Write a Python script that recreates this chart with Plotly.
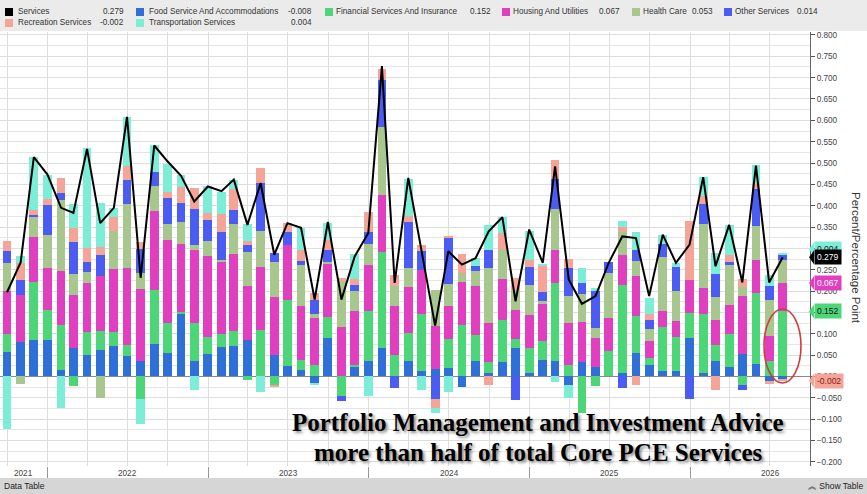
import plotly.graph_objects as go
import pandas as pd

# ---------------- data ----------------
months = pd.date_range("2021-09-30", periods=59, freq="ME").strftime("%Y-%m-%d").tolist()

services = [0.197, 0.267, 0.514, 0.473, 0.395, 0.383, 0.533, 0.359, 0.395, 0.608,
            0.231, 0.541, 0.504, 0.470, 0.410, 0.445, 0.434, 0.461, 0.355, 0.453,
            0.285, 0.359, 0.348, 0.180, 0.362, 0.180, 0.281, 0.336, 0.727, 0.219,
            0.465, 0.290, 0.119, 0.293, 0.262, 0.277, 0.340, 0.373, 0.176, 0.344,
            0.266, 0.492, 0.227, 0.170, 0.188, 0.266, 0.328, 0.324, 0.188, 0.332,
            0.266, 0.309, 0.467, 0.258, 0.355, 0.220, 0.494, 0.220, 0.279]

food = [0.056, 0.080, 0.086, 0.086, 0.016, 0.066, 0.051, 0.062, 0.070, 0.048,
        0.037, 0.076, 0.055, 0.146, 0.037, 0.053, 0.069, 0.072, 0.086, 0.000,
        0.051, 0.025, 0.014, -0.016, 0.091, 0.000, 0.023, 0.037, 0.066, 0.002,
        0.035, 0.012, 0.017, 0.020, -0.025, 0.037, 0.008, 0.034, 0.066, 0.009,
        0.039, 0.037, -0.020, 0.034, 0.023, 0.000, 0.009, 0.055, 0.027, 0.012,
        0.012, 0.091, 0.008, 0.035, 0.023, 0.053, 0.029, -0.010, -0.008]

financial = [0.044, 0.000, 0.135, 0.070, 0.105, -0.022, 0.053, 0.045, 0.035, 0.026,
             -0.052, 0.127, 0.070, 0.005, 0.087, 0.039, 0.031, 0.034, -0.009, 0.109,
             -0.020, 0.155, 0.025, 0.026, 0.047, -0.045, 0.004, 0.116, 0.225, 0.049,
             0.066, 0.133, 0.000, 0.068, 0.120, 0.059, 0.026, 0.097, 0.021, 0.057,
             0.045, 0.182, 0.026, -0.086, -0.022, 0.059, 0.205, 0.087, 0.016, 0.103,
             0.081, 0.057, 0.137, 0.039, 0.076, -0.020, 0.166, 0.037, 0.152]

housing = [0.101, 0.111, 0.105, 0.098, 0.125, 0.125, 0.115, 0.129, 0.147, 0.181,
           0.168, 0.185, 0.194, 0.159, 0.172, 0.189, 0.168, 0.180, 0.125, 0.148,
           0.134, 0.127, 0.125, 0.111, 0.126, 0.115, 0.127, 0.107, 0.134, 0.115,
           0.109, 0.105, 0.102, 0.077, 0.100, 0.115, 0.090, 0.098, 0.069, 0.078,
           0.086, 0.078, 0.098, 0.093, 0.068, 0.078, 0.070, 0.094, 0.039, 0.037,
           0.036, 0.077, 0.061, 0.059, 0.069, 0.136, 0.077, 0.057, 0.067]

health = [0.065, -0.018, 0.048, 0.078, 0.168, 0.048, 0.025, -0.051, 0.089, 0.148,
          0.037, 0.059, 0.037, 0.052, 0.012, 0.037, 0.005, 0.072, 0.080, 0.084,
          0.084, 0.000, 0.098, 0.010, 0.005, 0.108, 0.045, 0.051, 0.160, 0.045,
          0.043, 0.000, 0.084, 0.051, 0.022, 0.037, 0.130, 0.066, 0.045, 0.070,
          0.007, 0.095, 0.064, 0.067, 0.022, 0.105, 0.054, 0.035, 0.030, 0.127,
          0.070, 0.000, 0.152, 0.053, 0.092, 0.020, 0.080, 0.086, 0.053]

other = [0.027, 0.035, 0.003, 0.070, 0.016, 0.077, 0.024, 0.048, 0.000, 0.057,
         0.057, 0.033, 0.062, 0.045, 0.084, 0.048, 0.065, 0.032, 0.017, 0.112,
         0.020, 0.032, 0.008, 0.033, 0.027, -0.013, 0.016, 0.027, 0.109, -0.027,
         0.109, 0.043, -0.052, 0.108, 0.000, 0.011, 0.041, 0.000, -0.055, 0.043,
         0.020, 0.070, 0.065, 0.025, 0.086, 0.025, -0.027, 0.026, 0.021, 0.031,
         0.057, -0.053, 0.045, 0.055, 0.009, -0.012, 0.086, 0.031, 0.014]

recreation = [0.025, 0.039, 0.014, 0.014, 0.035, 0.031, 0.033, 0.019, 0.032, 0.034,
              0.017, 0.000, 0.015, 0.037, 0.049, 0.018, 0.042, 0.048, 0.009, 0.035,
              -0.006, 0.021, 0.026, 0.016, 0.023, 0.008, 0.012, 0.047, 0.027, 0.027,
              0.013, 0.014, -0.023, 0.005, 0.045, 0.000, -0.020, 0.042, 0.030, 0.016,
              0.062, 0.045, 0.023, 0.000, 0.000, 0.000, 0.012, -0.020, 0.014, 0.000,
              0.000, 0.138, 0.020, -0.033, 0.016, 0.018, 0.012, -0.007, -0.002]

transport = [-0.123, 0.016, 0.123, 0.056, -0.074, 0.056, 0.234, 0.104, 0.021, 0.113,
             -0.059, 0.062, 0.064, 0.027, -0.031, 0.062, 0.052, 0.023, 0.041, -0.037,
             0.000, 0.000, 0.052, -0.004, 0.041, 0.000, 0.059, -0.047, 0.000, 0.000,
             0.088, -0.031, -0.012, -0.037, 0.000, 0.018, 0.059, 0.036, 0.000, 0.068,
             0.005, -0.014, -0.030, 0.035, 0.008, 0.000, 0.014, 0.041, 0.037, 0.021,
             0.009, 0.000, 0.045, 0.047, 0.070, 0.000, 0.045, 0.027, 0.004]

year_labels = ["2021", "2022", "2023", "2024", "2025", "2026"]
year_label_pos = ["2021-11-07", "2022-07-02", "2023-07-02", "2024-07-02", "2025-07-02", "2026-07-02"]
year_starts = ["2022-01-01", "2023-01-01", "2024-01-01", "2025-01-01", "2026-01-01"]

series = [
    ("Food Service And Accommodations", food, "#2e6fd8"),
    ("Financial Services And Insurance", financial, "#4cd677"),
    ("Housing And Utilities", housing, "#e03fc0"),
    ("Health Care", health, "#a7c78f"),
    ("Other Services", other, "#4a5cf2"),
    ("Recreation Services", recreation, "#f5a597"),
    ("Transportation Services", transport, "#7ceed8"),
]

# ---------------- geometry helpers ----------------
W, H = 867, 494
L, R, T, B = 0, 57, 32, 28
PW, PH = W - L - R, H - T - B


def px(x):
    return (x - L) / PW


def py(y):
    return (H - B - y) / PH


FONT = "Liberation Sans"
BAR_W = 20 * 86400000

fig = go.Figure()
for name, vals, col in series:
    fig.add_trace(go.Bar(x=months, y=vals, name=name, marker=dict(color=col, line=dict(width=0)),
                         width=BAR_W))
fig.add_trace(go.Scatter(x=months, y=services, name="Services", mode="lines",
                         line=dict(color="black", width=2)))

shapes = []
annotations = []

# top legend band & bottom data table band
shapes.append(dict(type="rect", xref="paper", yref="paper", x0=px(0), x1=px(W), y0=py(31), y1=py(0),
                   fillcolor="#ebebeb", line=dict(width=0), layer="below"))
shapes.append(dict(type="rect", xref="paper", yref="paper", x0=px(0), x1=px(W), y0=py(H), y1=py(478),
                   fillcolor="#d6d6d6", line=dict(width=0), layer="below"))

# legend entries: (label, value, color, square_x, name_x, value_right_x, row_y)
legend_items = [
    ("Services", "0.279", "#000000", 5, 16, 126, 12),
    ("Food Service And Accommodations", "-0.008", "#2e6fd8", 136, 147, 314, 12),
    ("Financial Services And Insurance", "0.152", "#4cd677", 325, 334, 493, 12),
    ("Housing And Utilities", "0.067", "#e03fc0", 502, 511, 622, 12),
    ("Health Care", "0.053", "#a7c78f", 632, 641, 715, 12),
    ("Other Services", "0.014", "#4a5cf2", 724, 733, 820, 12),
    ("Recreation Services", "-0.002", "#f5a597", 5, 16, 126, 23),
    ("Transportation Services", "0.004", "#7ceed8", 136, 147, 314, 23),
]
for lab, val, col, sx, nx, vx, ry in legend_items:
    shapes.append(dict(type="rect", xref="paper", yref="paper", x0=px(sx), x1=px(sx + 8),
                       y0=py(ry + 4), y1=py(ry - 4), fillcolor=col, line=dict(width=0)))
    annotations.append(dict(xref="paper", yref="paper", x=px(nx), y=py(ry), text=lab, showarrow=False,
                            xanchor="left", yanchor="middle", font=dict(family=FONT, size=8.2, color="#333")))
    annotations.append(dict(xref="paper", yref="paper", x=px(vx), y=py(ry), text=val, showarrow=False,
                            xanchor="right", yanchor="middle", font=dict(family=FONT, size=8.2, color="#333")))

# year labels
for lab, pos in zip(year_labels, year_label_pos):
    annotations.append(dict(xref="x", yref="paper", x=pos, y=py(473), text=lab, showarrow=False,
                            xanchor="center", yanchor="middle", font=dict(family=FONT, size=8.2, color="#444")))

# bottom band texts
annotations.append(dict(xref="paper", yref="paper", x=px(2), y=py(486), text="Data Table", showarrow=False,
                        xanchor="left", yanchor="middle", font=dict(family=FONT, size=8.5, color="#222")))
annotations.append(dict(xref="paper", yref="paper", x=px(865), y=py(486), text="︽ Show Table", showarrow=False,
                        xanchor="right", yanchor="middle", font=dict(family=FONT, size=8.5, color="#222")))

# axis title
annotations.append(dict(xref="paper", yref="paper", x=px(856), y=py(258), text="Percent/Percentage Point",
                        showarrow=False, textangle=90, xanchor="center", yanchor="middle",
                        font=dict(family=FONT, size=11.5, color="#333")))

# value tags on right axis: (text, y value, bg, fg)
tags = [
    ("0.004", 0.298, "#7ceed8", "#222"),
    ("0.279", 0.279, "#000000", "#ffffff"),
    ("0.067", 0.219, "#e03fc0", "#ffffff"),
    ("0.152", 0.152, "#4cd677", "#111"),
    ("-0.002", -0.010, "#f5a597", "#8b1a1a"),
]
for txt, yv, bg, fg in tags:
    shapes.append(dict(type="path", xref="paper", yref="y",
                       path=f"M {px(809)},{yv} L {px(814)},{yv + 0.016} L {px(814)},{yv - 0.016} Z",
                       fillcolor=bg, line=dict(width=0)))
    annotations.append(dict(xref="paper", yref="y", x=px(814), y=yv, text=txt, showarrow=False,
                            xanchor="left", yanchor="middle", bgcolor=bg, borderpad=2,
                            font=dict(family=FONT, size=8.5, color=fg)))

# red ellipse
shapes.append(dict(type="circle", xref="paper", yref="paper", x0=px(764), x1=px(801), y0=py(383), y1=py(309),
                   line=dict(color="#d23c3c", width=1.6)))

# big caption
for txt, yy in [("Portfolio Management and Investment Advice", 422),
                ("more than half of total Core PCE Services", 452)]:
    annotations.append(dict(xref="paper", yref="paper", x=px(538), y=py(yy), text=txt, showarrow=False,
                            xanchor="center", yanchor="middle",
                            font=dict(family="Liberation Serif", size=25, color="#000", weight="bold",
                                      shadow="2px 2px 3px #888")))

fig.update_layout(
    width=W, height=H,
    margin=dict(l=L, r=R, t=T, b=B),
    barmode="relative",
    bargap=0,
    showlegend=False,
    plot_bgcolor="white",
    paper_bgcolor="white",
    shapes=shapes,
    annotations=annotations,
    xaxis=dict(type="date", range=["2021-09-14", "2026-10-01"], tickmode="array", tickvals=year_starts,
               showticklabels=False, ticks="outside", ticklen=11, tickcolor="#999",
               showgrid=True, gridcolor="#dedede", gridwidth=1, showline=False, zeroline=False,
               minor=dict(tickmode="linear", tick0="2021-10-01", dtick="M3", showgrid=True,
                          gridcolor="#dedede", ticks="")),
    yaxis=dict(side="right", range=[-0.2101, 0.807], tickmode="linear", tick0=0, dtick=0.05,
               tickformat=".3f", ticks="outside", ticklen=4, tickcolor="#555",
               showline=True, linecolor="#666", linewidth=1, mirror=False,
               showgrid=True, gridcolor="#dedede", zeroline=True, zerolinecolor="#888", zerolinewidth=1,
               tickfont=dict(family=FONT, size=8.2, color="#444"),
               minor=dict(tickmode="linear", tick0=0, dtick=0.025, showgrid=True, gridcolor="#e6e6e6", ticks="")),
    font=dict(family=FONT),
)

fig.write_html("out.html", config={"displayModeBar": False},
               post_script="document.body.style.margin='0';document.body.style.overflow='hidden';")
